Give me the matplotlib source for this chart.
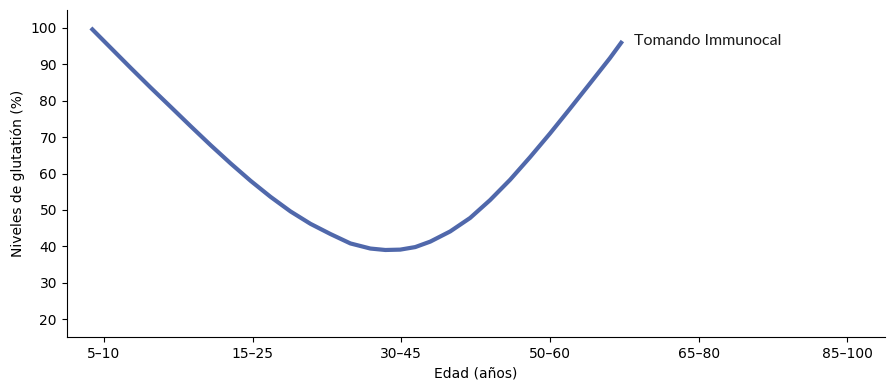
import matplotlib
matplotlib.use("Agg")
import matplotlib.pyplot as plt

# categorías de edad (eje x)
age_groups = ["5–10", "15–25", "30–45", "50–60", "65–80", "85–100"]

# puntos (posición en el eje de categorías, nivel %)
curve_x = [-0.087, 0.047, 0.181, 0.315, 0.450, 0.584, 0.718, 0.852, 0.987,
           1.121, 1.255, 1.389, 1.523, 1.658, 1.792, 1.893, 1.993, 2.094,
           2.195, 2.329, 2.463, 2.597, 2.732, 2.866, 3.000, 3.134, 3.268,
           3.403, 3.487]
curve_y = [100.0, 94.5, 89.0, 83.6, 78.3, 73.0, 67.8, 62.8, 58.0,
           53.6, 49.6, 46.2, 43.4, 40.8, 39.4, 39.0, 39.1, 39.8,
           41.3, 44.1, 47.8, 52.7, 58.3, 64.5, 71.0, 77.8, 84.7,
           91.7, 96.4]
series_label = "Tomando Immunocal"

fig, ax = plt.subplots(figsize=(8.89, 3.9), dpi=100)
ax.plot(curve_x, curve_y, color="#5068AB", lw=3, solid_capstyle="butt",
        solid_joinstyle="round")
ax.text(curve_x[-1] + 0.08, curve_y[-1], series_label, fontsize=11.5,
        family=["Lato", "DejaVu Sans"], va="center", ha="left", color="#1a1a1a")

ax.set_xticks(range(len(age_groups)))
ax.set_xticklabels(age_groups)
ax.set_xlim(-0.25, 5.25)
ax.set_ylim(15, 105)
ax.set_yticks(range(20, 101, 10))
ax.set_xlabel("Edad (años)")
ax.set_ylabel("Niveles de glutatión (%)")
ax.spines["top"].set_visible(False)
ax.spines["right"].set_visible(False)

fig.subplots_adjust(left=0.075, right=0.995, top=0.975, bottom=0.135)
fig.savefig("out.png", dpi=100)
